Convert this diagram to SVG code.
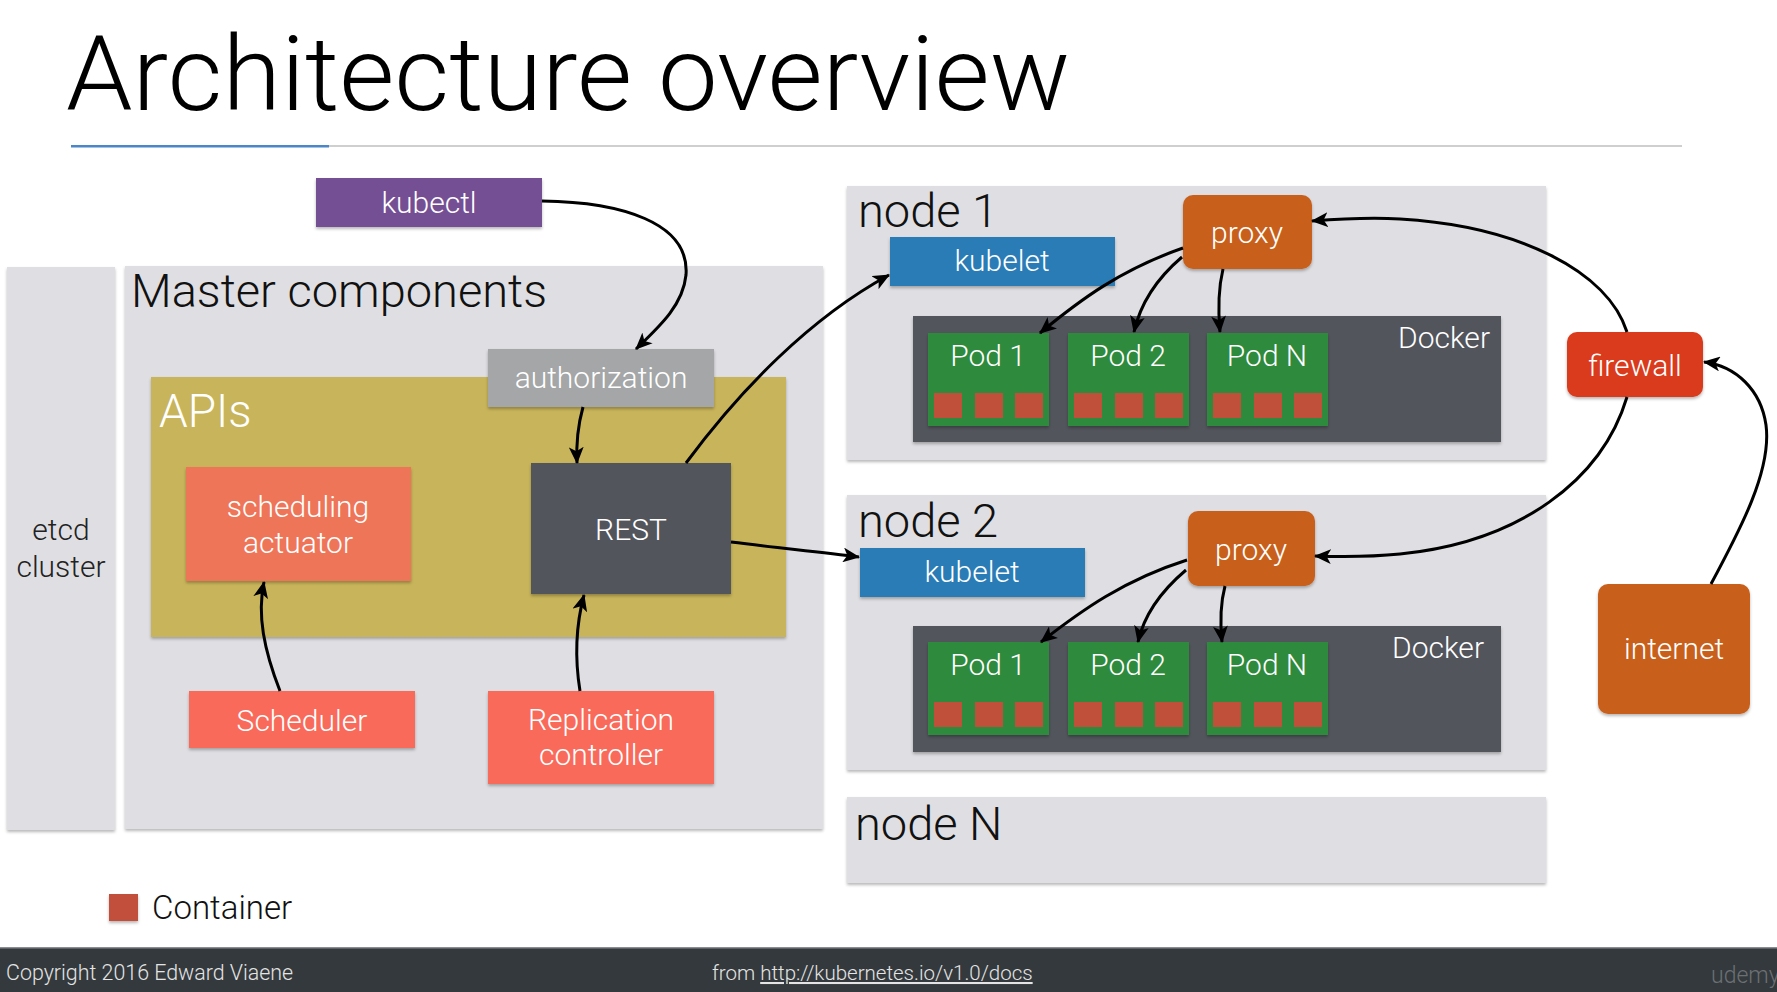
<svg xmlns="http://www.w3.org/2000/svg" width="1777" height="992" viewBox="0 0 1777 992">
<style>
text{font-family:Roboto,"Liberation Sans",Arial,sans-serif;font-weight:300;}
.w{fill:#ffffff;font-size:30px;text-anchor:middle;}
.big{fill:#111111;font-size:47px;}
.panel{fill:#dfdfe3;}
.dark{fill:#52555d;}
.pod{fill:#2e8a3e;}
.ctr{fill:#c1503a;}
.coral{fill:#f96a5a;}
.orange{fill:#c8601e;}
.conn{fill:none;stroke:#000;stroke-width:3;marker-end:url(#arr);}
.sh{filter:url(#shadow);}
</style>
<defs>
<filter id="shadow" x="-10%" y="-10%" width="120%" height="130%">
<feDropShadow dx="0" dy="2" stdDeviation="1.5" flood-color="#000" flood-opacity="0.28"/>
</filter>
<marker id="arr" viewBox="0 0 16 14" refX="15" refY="7" markerWidth="17" markerHeight="15" markerUnits="userSpaceOnUse" orient="auto">
<path d="M0,0 L16,7 L0,14 L4,7 z" fill="#000"/>
</marker>
<g id="pods-tpl">
<rect class="pod sh" x="0" y="0" width="121" height="93"/>
<rect class="ctr" x="6" y="60" width="28" height="25"/>
<rect class="ctr" x="47" y="60" width="28" height="25"/>
<rect class="ctr" x="87" y="60" width="28" height="25"/>
</g>
</defs>
<rect x="0" y="0" width="1777" height="992" fill="#ffffff"/>

<g id="title">
<text x="66" y="110" font-size="104" fill="#000" textLength="1004" lengthAdjust="spacingAndGlyphs">Architecture overview</text>
<rect x="71" y="145" width="258" height="2.5" fill="#4a86c8"/>
<rect x="329" y="145" width="1353" height="2" fill="#cfcfcf"/>
</g>

<g id="etcd">
<rect class="panel sh" x="7" y="267" width="108" height="563"/>
<text x="61" y="540" font-size="30" fill="#222" text-anchor="middle">etcd</text>
<text x="61" y="577" font-size="30" fill="#222" text-anchor="middle">cluster</text>
</g>

<g id="master">
<rect class="panel sh" x="125" y="266" width="698" height="563"/>
<text class="big" x="131" y="307">Master components</text>
</g>

<g id="apis">
<rect class="sh" x="151" y="377" width="635" height="260" fill="#c8b45a"/>
<text x="159" y="427" font-size="46" fill="#ffffff">APIs</text>
</g>

<g id="kubectl">
<rect class="sh" x="316" y="178" width="226" height="49" fill="#744f94"/>
<text class="w" x="429" y="213">kubectl</text>
</g>

<g id="authorization">
<rect class="sh" x="488" y="349" width="226" height="58" fill="#a4a6a7"/>
<text class="w" x="601" y="388">authorization</text>
</g>

<g id="scheduling-actuator">
<rect class="sh" x="186" y="467" width="225" height="114" fill="#ef7459"/>
<text class="w" x="298" y="517">scheduling</text>
<text class="w" x="298" y="553">actuator</text>
</g>

<g id="rest">
<rect class="dark sh" x="531" y="463" width="200" height="131"/>
<text class="w" x="631" y="540" font-size="28">REST</text>
</g>

<g id="scheduler">
<rect class="coral sh" x="189" y="691" width="226" height="57"/>
<text class="w" x="302" y="731">Scheduler</text>
</g>

<g id="replication-controller">
<rect class="coral sh" x="488" y="691" width="226" height="93"/>
<text class="w" x="601" y="730" font-size="29">Replication</text>
<text class="w" x="601" y="765" font-size="29">controller</text>
</g>

<g id="node1">
<rect class="panel sh" x="847" y="186" width="699" height="274"/>
<text class="big" x="858" y="227">node 1</text>
<rect class="sh" x="890" y="237" width="225" height="49" fill="#2c7bb6"/>
<text class="w" x="1002" y="271">kubelet</text>
<rect class="dark sh" x="913" y="316" width="588" height="126"/>
<text x="1490" y="348" font-size="30" fill="#fff" text-anchor="end">Docker</text>
<use href="#pods-tpl" x="928" y="333"/>
<use href="#pods-tpl" x="1068" y="333"/>
<use href="#pods-tpl" x="1207" y="333"/>
<text class="w" x="988" y="366" font-size="29">Pod 1</text>
<text class="w" x="1128" y="366" font-size="29">Pod 2</text>
<text class="w" x="1267" y="366" font-size="29">Pod N</text>
<rect class="orange sh" x="1183" y="195" width="129" height="74" rx="10"/>
<text class="w" x="1247" y="243">proxy</text>
</g>

<g id="node2">
<rect class="panel sh" x="847" y="495" width="699" height="275"/>
<text class="big" x="858" y="537">node 2</text>
<rect class="sh" x="860" y="548" width="225" height="49" fill="#2c7bb6"/>
<text class="w" x="972" y="582">kubelet</text>
<rect class="dark sh" x="913" y="626" width="588" height="126"/>
<text x="1484" y="658" font-size="30" fill="#fff" text-anchor="end">Docker</text>
<use href="#pods-tpl" x="928" y="642"/>
<use href="#pods-tpl" x="1068" y="642"/>
<use href="#pods-tpl" x="1207" y="642"/>
<text class="w" x="988" y="675" font-size="29">Pod 1</text>
<text class="w" x="1128" y="675" font-size="29">Pod 2</text>
<text class="w" x="1267" y="675" font-size="29">Pod N</text>
<rect class="orange sh" x="1188" y="511" width="127" height="75" rx="10"/>
<text class="w" x="1251" y="560">proxy</text>
</g>

<g id="nodeN">
<rect class="panel sh" x="847" y="797" width="699" height="86"/>
<text class="big" x="855" y="840">node N</text>
</g>

<g id="firewall">
<rect class="sh" x="1567" y="332" width="136" height="65" rx="10" fill="#d93a1a"/>
<text class="w" x="1635" y="376">firewall</text>
</g>

<g id="internet">
<rect class="orange sh" x="1598" y="584" width="152" height="130" rx="10"/>
<text class="w" x="1674" y="659">internet</text>
</g>

<g id="legend">
<rect class="ctr sh" x="109" y="894" width="29" height="27"/>
<text x="152" y="919" font-size="33" fill="#111">Container</text>
</g>

<g id="connectors">
<path class="conn" d="M542,201 C620,202 690,222 686,275 C683,305 660,326 636,349"/>
<path class="conn" d="M583,407 C578,425 576,442 577,463"/>
<path class="conn" d="M686,463 C740,390 810,318 889,275"/>
<path class="conn" d="M731,542 C780,548 820,552 859,557"/>
<path class="conn" d="M280,691 C264,650 257,615 264,582"/>
<path class="conn" d="M580,691 C575,660 576,625 584,595"/>
<path class="conn" d="M1183,248 C1120,270 1080,300 1040,333"/>
<path class="conn" d="M1182,257 C1155,280 1140,305 1134,332"/>
<path class="conn" d="M1223,269 C1218,290 1218,310 1220,332"/>
<path class="conn" d="M1187,560 C1124,580 1082,610 1041,642"/>
<path class="conn" d="M1186,570 C1160,592 1144,615 1138,642"/>
<path class="conn" d="M1225,586 C1220,605 1220,622 1222,642"/>
<path class="conn" d="M1627,332 C1608,272 1520,226 1400,219 C1365,217 1338,219 1312,221"/>
<path class="conn" d="M1627,397 C1602,480 1520,542 1400,554 C1370,557 1345,557 1315,556"/>
<path class="conn" d="M1711,584 C1740,530 1772,470 1766,425 C1761,390 1736,366 1704,362"/>
</g>

<g id="footer">
<rect x="0" y="948" width="1777" height="44" fill="#33393c"/>
<rect x="0" y="947" width="1777" height="1.5" fill="#8a8e91"/>
<text x="6" y="980" font-size="21.4" fill="#e4e4e4">Copyright 2016 Edward Viaene</text>
<text x="712" y="980" font-size="20.5" fill="#e4e4e4">from <tspan text-decoration="underline">http://kubernetes.io/v1.0/docs</tspan></text>
<text x="1711" y="983" font-size="23" fill="#6b7074">udemy</text>
</g>
</svg>
